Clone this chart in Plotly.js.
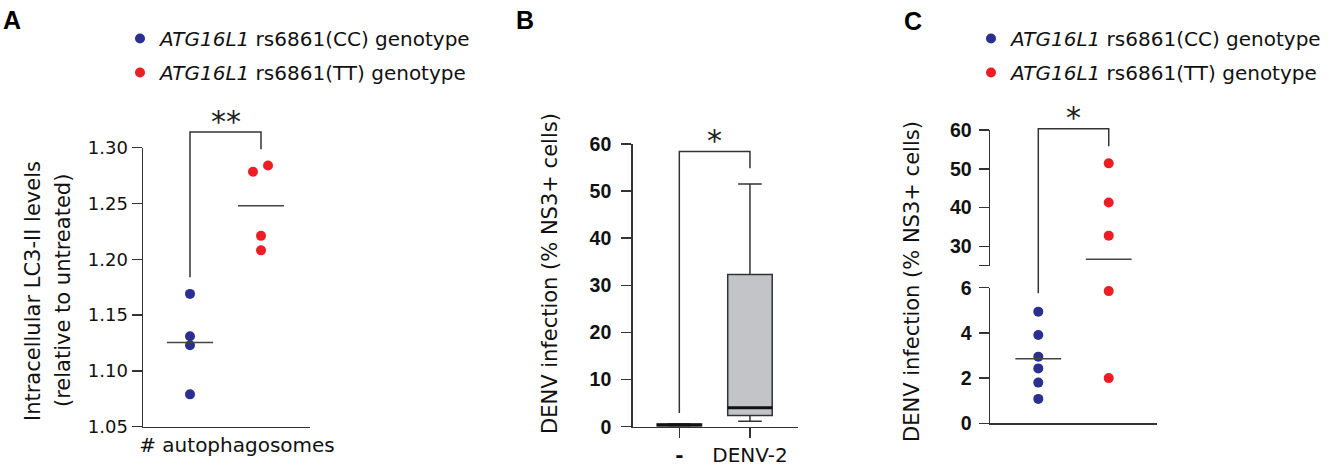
<!DOCTYPE html>
<html>
<head>
<meta charset="utf-8">
<script src="https://cdn.plot.ly/plotly-3.0.1.min.js"></script>
<style>
  html, body { margin: 0; padding: 0; background: #fff; }
  #chart { width: 1331px; height: 471px; }
</style>
</head>
<body>
<div id="chart"></div>
<script>
// ---------------- DATA ----------------
// Panel A: intracellular LC3-II levels (relative to untreated)
const aCC = [1.169, 1.131, 1.123, 1.079];
const aTT = [1.2785, 1.284, 1.221, 1.208];
const aTickLabels = ['# autophagosomes'];
const aYTicks = [1.05, 1.10, 1.15, 1.20, 1.25, 1.30];

// Panel B: DENV infection (% NS3+ cells), box summary
const bCats = ['-', 'DENV-2'];
const bLowerFence = [0.1, 1.15];
const bQ1 = [0.15, 2.4];
const bMedian = [0.35, 4.0];
const bQ3 = [0.55, 32.3];
const bUpperFence = [0.6, 51.5];
const bYTicks = [0, 10, 20, 30, 40, 50, 60];

// Panel C: DENV infection (% NS3+ cells) by genotype
const cCC = [4.94, 3.91, 2.95, 2.43, 1.8, 1.08];
const cTT = [51.4, 41.3, 32.75, 5.85, 2.0];
const cLowTicks = [0, 2, 4, 6];
const cHighTicks = [25, 30, 40, 50, 60];
const cHighTickLabels = ['', '30', '40', '50', '60'];

const seriesNames = ['<i>ATG16L1</i> rs6861(CC) genotype', '<i>ATG16L1</i> rs6861(TT) genotype'];

// ---------------- STYLE / LAYOUT ----------------
const W = 1331, H = 471;
const px = v => v / W;
const py = v => 1 - v / H;
const BLUE = '#2b3090', RED = '#ee1d24', INK = '#333333', TXT = '#111111';
const aTTOffsets = [-0.113, 0.099, 0, 0];   // horizontal dodge of overlapping dots
const meanHalf = 0.325;
const breakAt = 6;                          // panel C: values above go on upper axis segment
const DOT = 10;

const xA = {domain: [px(143), px(310)], range: [-0.662, 1.69]};
const yA = {domain: [py(426.7), py(147.7)], range: [1.05, 1.30]};
const xB = {domain: [px(632.7), px(798)], range: [-0.66, 1.68]};
const yB = {domain: [py(426.7), py(144)], range: [0, 60]};
const xC = {domain: [px(990), px(1157.3)], range: [-0.686, 1.69]};
const yCl = {domain: [py(423.3), py(287.7)], range: [0, 6]};
const yCh = {domain: [py(265.7), py(130)], range: [25, 60]};

function toPaper(v, ax) {
  const [d0, d1] = ax.domain, [r0, r1] = ax.range;
  return d0 + (v - r0) / (r1 - r0) * (d1 - d0);
}
const mean = arr => arr.reduce((s, v) => s + v, 0) / arr.length;

const tickFontA = {family: 'DejaVu Sans', size: 18, color: TXT};
const tickFontBC = {family: 'Liberation Sans', size: 19.5, color: TXT, weight: 'bold'};

const baseAxis = {
  showline: true, linecolor: INK, linewidth: 1.5,
  ticks: 'outside', ticklen: 10, tickwidth: 1.5, tickcolor: INK,
  showgrid: false, zeroline: false, fixedrange: true
};

// ---------------- TRACES ----------------
const traces = [];
// Panel A
traces.push({
  type: 'scatter', mode: 'markers', x: aCC.map(() => 0), y: aCC,
  xaxis: 'x', yaxis: 'y', name: seriesNames[0], legend: 'legend', legendgroup: 'aCC',
  marker: {color: BLUE, size: DOT}, cliponaxis: false, hoverinfo: 'y'
});
traces.push({
  type: 'scatter', mode: 'markers', x: aTT.map((v, i) => 1 + aTTOffsets[i]), y: aTT,
  xaxis: 'x', yaxis: 'y', name: seriesNames[1], legend: 'legend', legendgroup: 'aTT',
  marker: {color: RED, size: DOT}, cliponaxis: false, hoverinfo: 'y'
});
[[aCC, 0], [aTT, 1]].forEach(([arr, g]) => {
  const m = mean(arr);
  traces.push({
    type: 'scatter', mode: 'lines', x: [g - meanHalf, g + meanHalf], y: [m, m],
    xaxis: 'x', yaxis: 'y', line: {color: '#444', width: 1.5}, showlegend: false, hoverinfo: 'skip'
  });
});

// Panel B
traces.push({
  type: 'box', x: bCats.map((c, i) => i), q1: bQ1, median: bMedian, q3: bQ3,
  lowerfence: bLowerFence, upperfence: bUpperFence,
  xaxis: 'x2', yaxis: 'y2', width: 0.63, whiskerwidth: 0.53,
  fillcolor: '#c3c4c7', line: {color: INK, width: 1.5},
  boxpoints: false, showlegend: false, hoverinfo: 'y'
});
bMedian.forEach((m, i) => {
  traces.push({
    type: 'scatter', mode: 'lines', x: [i - 0.315, i + 0.315], y: [m, m],
    xaxis: 'x2', yaxis: 'y2', line: {color: '#111', width: 3}, showlegend: false, hoverinfo: 'skip'
  });
});

// Panel C (broken y axis: lower 0-6, upper 25-60)
const cLowTT = cTT.filter(v => v <= breakAt), cHighTT = cTT.filter(v => v > breakAt);
traces.push({
  type: 'scatter', mode: 'markers', x: cCC.map(() => 0), y: cCC,
  xaxis: 'x3', yaxis: 'y3', name: seriesNames[0], legend: 'legend2', legendgroup: 'cCC',
  marker: {color: BLUE, size: DOT}, cliponaxis: false, hoverinfo: 'y'
});
traces.push({
  type: 'scatter', mode: 'markers', x: cLowTT.map(() => 1), y: cLowTT,
  xaxis: 'x3', yaxis: 'y3', name: seriesNames[1], legend: 'legend2', legendgroup: 'cTT',
  marker: {color: RED, size: DOT}, cliponaxis: false, hoverinfo: 'y'
});
traces.push({
  type: 'scatter', mode: 'markers', x: cHighTT.map(() => 1), y: cHighTT,
  xaxis: 'x3', yaxis: 'y4', name: seriesNames[1], legend: 'legend2', legendgroup: 'cTT', showlegend: false,
  marker: {color: RED, size: DOT}, cliponaxis: false, hoverinfo: 'y'
});
[[cCC, 0], [cTT, 1]].forEach(([arr, g]) => {
  const m = mean(arr);
  traces.push({
    type: 'scatter', mode: 'lines', x: [g - meanHalf, g + meanHalf], y: [m, m],
    xaxis: 'x3', yaxis: m > breakAt ? 'y4' : 'y3',
    line: {color: '#444', width: 1.5}, showlegend: false, hoverinfo: 'skip'
  });
});

// ---------------- ANNOTATION SHAPES (significance brackets) ----------------
const bracketLine = {color: INK, width: 1.5};
const shapes = [
  {type: 'path', xref: 'x', yref: 'paper', line: bracketLine,
   path: `M 0,${toPaper(1.184, yA)} L 0,${toPaper(1.314, yA)} L 1,${toPaper(1.314, yA)} L 1,${toPaper(1.2986, yA)}`},
  {type: 'path', xref: 'x2', yref: 'paper', line: bracketLine,
   path: `M 0,${toPaper(2.9, yB)} L 0,${toPaper(58.4, yB)} L 1,${toPaper(58.4, yB)} L 1,${toPaper(54.85, yB)}`},
  {type: 'path', xref: 'x3', yref: 'paper', line: bracketLine,
   path: `M 0,${toPaper(5.75, yCl)} L 0,${toPaper(60.3, yCh)} L 1,${toPaper(60.3, yCh)} L 1,${toPaper(55.8, yCh)}`}
];

const titleFont = {family: 'DejaVu Sans', size: 21, color: TXT};
const starFont = {family: 'DejaVu Sans', size: 30, color: '#222'};
const labelFont = {family: 'Liberation Sans', size: 25, color: '#000', weight: 'bold'};
const starLift = 11 / H;
const annotations = [
  // panel letters
  {text: '<b>A</b>', xref: 'paper', yref: 'paper', x: px(1), y: py(4), xanchor: 'left', yanchor: 'top', showarrow: false, font: labelFont},
  {text: '<b>B</b>', xref: 'paper', yref: 'paper', x: px(514), y: py(4), xanchor: 'left', yanchor: 'top', showarrow: false, font: labelFont},
  {text: '<b>C</b>', xref: 'paper', yref: 'paper', x: px(902), y: py(5), xanchor: 'left', yanchor: 'top', showarrow: false, font: labelFont},
  // y titles
  {text: 'Intracellular LC3-II levels', xref: 'paper', yref: 'paper', x: px(33), y: py(291), textangle: -90, showarrow: false, font: titleFont, xanchor: 'center', yanchor: 'middle'},
  {text: '(relative to untreated)', xref: 'paper', yref: 'paper', x: px(63), y: py(291), textangle: -90, showarrow: false, font: titleFont, xanchor: 'center', yanchor: 'middle'},
  {text: 'DENV infection (% NS3+ cells)', xref: 'paper', yref: 'paper', x: px(550), y: py(274), textangle: -90, showarrow: false, font: titleFont, xanchor: 'center', yanchor: 'middle'},
  {text: 'DENV infection (% NS3+ cells)', xref: 'paper', yref: 'paper', x: px(912), y: py(282), textangle: -90, showarrow: false, font: titleFont, xanchor: 'center', yanchor: 'middle'},
  // significance stars
  {text: '**', xref: 'x', yref: 'paper', x: 0.5, y: toPaper(1.314, yA) + starLift, yanchor: 'middle', showarrow: false, font: starFont},
  {text: '*', xref: 'x2', yref: 'paper', x: 0.5, y: toPaper(58.4, yB) + starLift, yanchor: 'middle', showarrow: false, font: starFont},
  {text: '*', xref: 'x3', yref: 'paper', x: 0.5, y: toPaper(60.3, yCh) + starLift, yanchor: 'middle', showarrow: false, font: starFont}
];

const legendFont = {family: 'DejaVu Sans', size: 20, color: TXT};
const layout = {
  width: W, height: H,
  margin: {l: 0, r: 0, t: 0, b: 0},
  paper_bgcolor: '#fff', plot_bgcolor: 'rgba(0,0,0,0)',
  font: {family: 'DejaVu Sans', color: TXT},
  showlegend: true,
  legend: {x: px(120), y: py(19), xanchor: 'left', yanchor: 'top', bgcolor: 'rgba(0,0,0,0)',
           tracegroupgap: 5, font: legendFont, itemclick: false, itemdoubleclick: false},
  legend2: {x: px(971), y: py(19), xanchor: 'left', yanchor: 'top', bgcolor: 'rgba(0,0,0,0)',
            tracegroupgap: 5, font: legendFont, itemclick: false, itemdoubleclick: false},
  xaxis: Object.assign({}, baseAxis, xA, {anchor: 'y', ticks: '', tickvals: [0.662], ticktext: aTickLabels,
          tickfont: {family: 'DejaVu Sans', size: 20, color: TXT}}),
  yaxis: Object.assign({}, baseAxis, yA, {anchor: 'x', tickvals: aYTicks, ticktext: aYTicks.map(v => v.toFixed(2)),
          tickfont: tickFontA}),
  xaxis2: Object.assign({}, baseAxis, xB, {anchor: 'y2', tickvals: bCats.map((c, i) => i),
          ticktext: bCats.map(c => c === '-' ? '<b>-</b>' : c),
          tickfont: {family: 'DejaVu Sans', size: 20, color: TXT}}),
  yaxis2: Object.assign({}, baseAxis, yB, {anchor: 'x2', tickvals: bYTicks, tickfont: tickFontBC, ticklabelstandoff: 6}),
  xaxis3: Object.assign({}, baseAxis, xC, {anchor: 'y3', ticks: '', showticklabels: false}),
  yaxis3: Object.assign({}, baseAxis, yCl, {anchor: 'x3', tickvals: cLowTicks, tickfont: tickFontBC, ticklabelstandoff: 3}),
  yaxis4: Object.assign({}, baseAxis, yCh, {anchor: 'x3', tickvals: cHighTicks, ticktext: cHighTickLabels, tickfont: tickFontBC, ticklabelstandoff: 3}),
  shapes: shapes,
  annotations: annotations
};

Plotly.newPlot('chart', traces, layout, {displayModeBar: false, staticPlot: true});
</script>
</body>
</html>
